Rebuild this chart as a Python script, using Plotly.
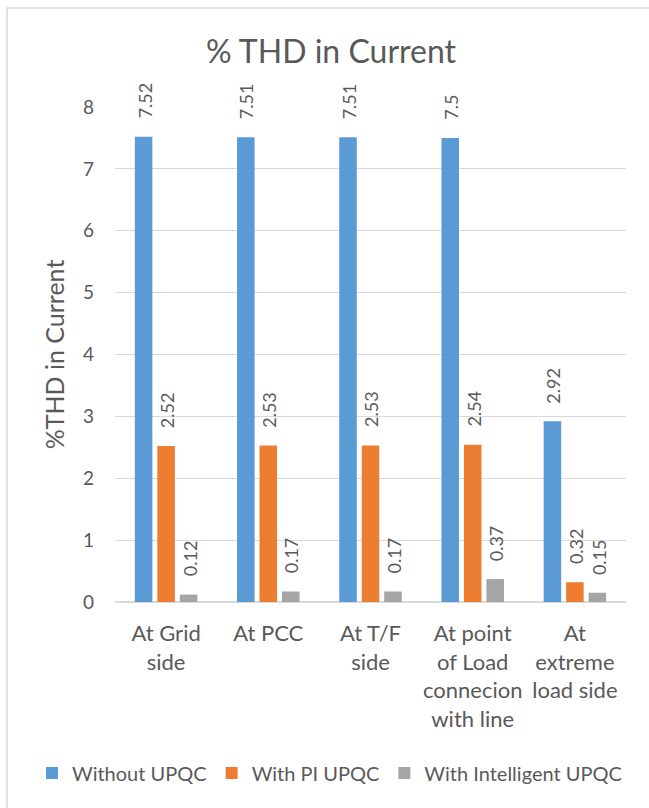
import plotly.graph_objects as go

# Measurement locations along the distribution feeder
categories = [
    "At Grid<br>side",
    "At PCC",
    "At T/F<br>side",
    "At point<br>of Load<br>connecion<br>with line",
    "At<br>extreme<br>load side",
]

# %THD in current for each compensation scheme
without_upqc = [7.52, 7.51, 7.51, 7.5, 2.92]
with_pi_upqc = [2.52, 2.53, 2.53, 2.54, 0.32]
with_intelligent_upqc = [0.12, 0.17, 0.17, 0.37, 0.15]

series_names = ["Without UPQC", "With PI UPQC", "With Intelligent UPQC"]
series_values = [without_upqc, with_pi_upqc, with_intelligent_upqc]
series_colors = ["#5B9BD5", "#ED7D31", "#A5A5A5"]

y_ticks = [0, 1, 2, 3, 4, 5, 6, 7, 8]

W, H = 649, 808
L, R, T, B = 115, 23, 107, 206
BARGAP = 0.34
BARGROUPGAP = 0.22
TEXT = "#595959"
FONT = "Lato, Open Sans, sans-serif"

fig = go.Figure()
for name, vals, col in zip(series_names, series_values, series_colors):
    fig.add_trace(go.Bar(
        x=categories, y=vals, name=name,
        marker=dict(color=col, line=dict(width=0)),
    ))

# Rotated value labels above each bar
plot_w = W - L - R
plot_h = H - T - B
slot = plot_w / len(categories) * (1 - BARGAP) / len(series_names)
for i, vals in enumerate(series_values):
    shift = (i - (len(series_names) - 1) / 2) * slot
    for cat, v in zip(categories, vals):
        fig.add_annotation(
            x=cat, y=v, xref="x", yref="y",
            text=f"{v:g}", showarrow=False, textangle=-90,
            xanchor="center", yanchor="bottom",
            xshift=shift + 1, yshift=16,
            font=dict(family=FONT, size=18, color=TEXT),
        )

# Light frame around the chart area
def px_x(p):
    return (p - L) / plot_w

def px_y(p):
    return (H - B - p) / plot_h

fig.add_shape(
    type="rect", xref="paper", yref="paper",
    x0=px_x(7), x1=px_x(700), y0=px_y(8), y1=px_y(900),
    line=dict(color="#D9D9D9", width=1.5), fillcolor="rgba(0,0,0,0)",
    layer="below",
)

fig.update_layout(
    width=W, height=H,
    margin=dict(l=L, r=R, t=T, b=B, autoexpand=False),
    paper_bgcolor="white", plot_bgcolor="white",
    barmode="group", bargap=BARGAP, bargroupgap=BARGROUPGAP,
    font=dict(family=FONT, color=TEXT),
    title=dict(
        text="% THD in Current", x=331 / W, xanchor="center",
        y=1 - 52 / H, yanchor="middle",
        font=dict(family=FONT, size=32, color=TEXT),
    ),
    # anchored left of the plot area so the single legend row may use the left margin
    legend=dict(
        orientation="h", x=px_x(32), xref="paper", xanchor="left",
        y=px_y(773), yref="paper", yanchor="middle",
        font=dict(family=FONT, size=20, color=TEXT),
        itemwidth=30, traceorder="normal",
    ),
    showlegend=True,
)

fig.update_xaxes(
    showgrid=False, showline=False, zeroline=False,
    tickfont=dict(family=FONT, size=22, color=TEXT),
    ticklabelstandoff=16, tickangle=0,
)
fig.update_yaxes(
    range=[0, 8], tickvals=y_ticks, ticktext=[str(t) for t in y_ticks],
    showgrid=True, gridcolor="#D9D9D9", gridwidth=1.3,
    zeroline=True, zerolinecolor="#D9D9D9", zerolinewidth=1.5,
    showline=False,
    tickfont=dict(family=FONT, size=19, color=TEXT),
    ticklabelstandoff=20,
    title=dict(text="%THD in Current", standoff=11,
               font=dict(family=FONT, size=25, color=TEXT)),
)

fig.write_html("out.html")
